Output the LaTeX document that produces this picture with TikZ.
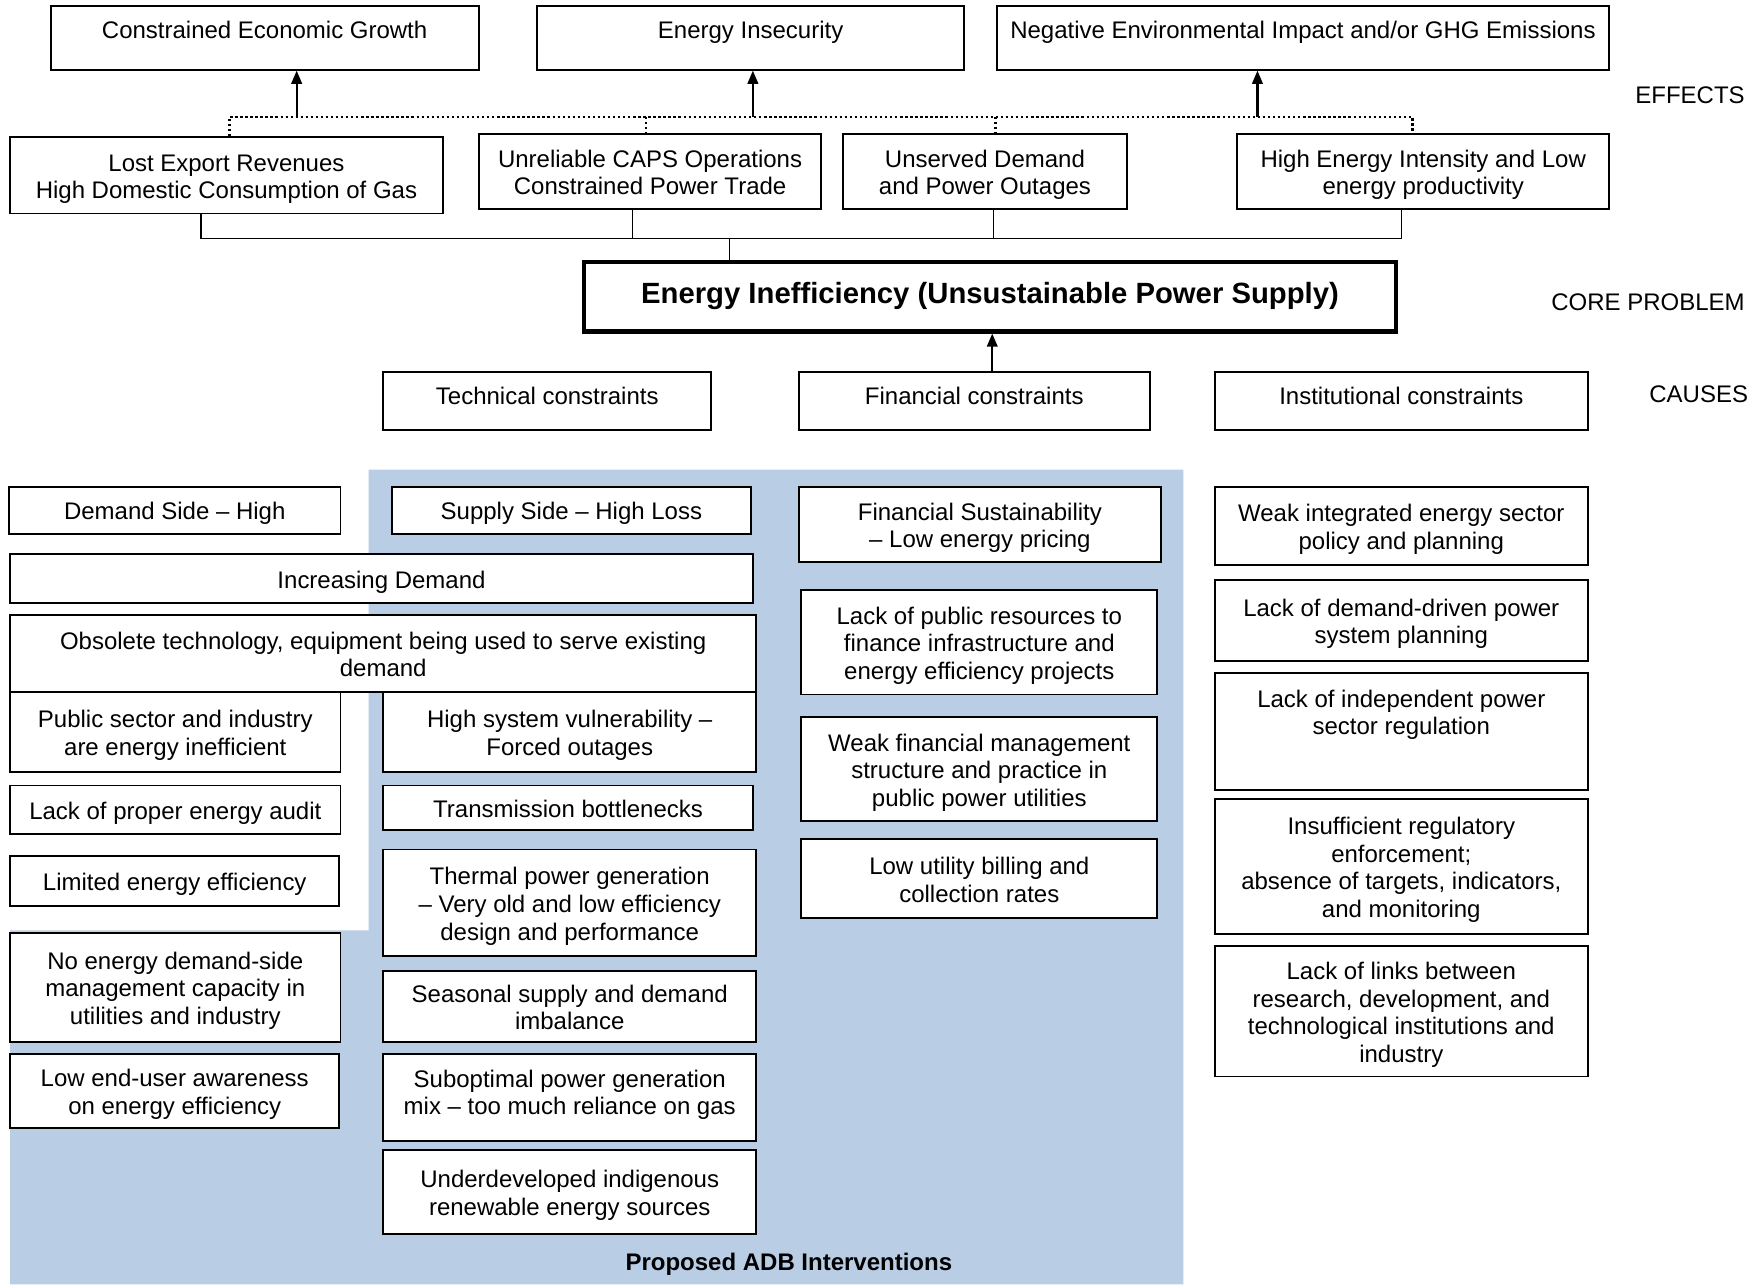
\documentclass[tikz,border=0pt]{standalone}
\usepackage{fontspec}
\setmainfont{Liberation Sans}
\usetikzlibrary{fit, arrows.meta}

\definecolor{adbblue}{RGB}{185,205,229}
\newcommand{\cell}[1]{\begin{tabular}{@{}c@{}}#1\end{tabular}}

\begin{document}
\begin{tikzpicture}[
			x=0.01646cm, y=-0.01646cm,
			font=\fontsize{10}{11.5}\selectfont,
			% Style for the boxes (placed by their corners, text as centred label)
			box/.style={draw, line width=0.8pt, fill=white, inner sep=0pt},
			cellbox/.style={box, label={[inner sep=0pt, yshift=-1.7pt]center:{\cell{#1}}}},
			% Single line boxes whose text sits a little high
			highbox/.style={box, label={[inner sep=0pt, yshift=0.8pt]center:{\cell{#1}}}},
			topbox/.style={box, label={[inner sep=0pt, yshift=1.8pt]center:{\cell{#1}}}},
			corebox/.style={box, line width=1.7pt, label={[inner sep=0pt, font=\fontsize{12.2}{14}\selectfont\bfseries]center:{\cell{#1}}}},
			% Connectors
			link/.style={line width=0.6pt},
			dots/.style={line width=1.1pt, dash pattern=on 1pt off 1.1pt},
			arr/.style={line width=0.9pt, -{Triangle[length=5.5pt, width=4.4pt]}},
			% Level labels on the right
			level/.style={anchor=east, inner sep=0pt}
			]
			\useasboundingbox (0,0) rectangle (1568,1143);
			
			% ==============================================================================
			% PROPOSED ADB INTERVENTIONS (shaded area)
			% ==============================================================================
			\fill[adbblue] (328,418) -- (1053,418) -- (1053,1143) -- (9,1143) -- (9,828) -- (328,828) -- cycle;
			\node[inner sep=0pt, font=\fontsize{10}{11.5}\selectfont\bfseries] (adb) at (702,1125) {Proposed ADB Interventions};
			
			% ==============================================================================
			% EFFECTS
			% ==============================================================================
			\node[topbox={Constrained Economic Growth}, fit={(45,5) (426,62)}] (eGrowth) {};
			\node[topbox={Energy Insecurity}, fit={(478,5) (858,62)}] (eInsecurity) {};
			\node[topbox={Negative Environmental Impact and/or GHG Emissions}, fit={(887,5) (1432,62)}] (eEnv) {};
			
			\node[cellbox={Lost Export Revenues\\High Domestic Consumption of Gas}, fit={(9,122) (394,190)}] (lostExport) {};
			\node[cellbox={Unreliable CAPS Operations\\Constrained Power Trade}, fit={(426,119) (731,186)}] (caps) {};
			\node[cellbox={Unserved Demand\\and Power Outages}, fit={(750,119) (1003,186)}] (unserved) {};
			\node[cellbox={High Energy Intensity and Low\\energy productivity}, fit={(1101,119) (1432,186)}] (intensity) {};
			
			% dotted bus and arrows up to the effects
			\coordinate (dotL) at (204,104);
			\coordinate (dotR) at (1257,104);
			\draw[dots] (lostExport.north -| dotL) -- (dotL) -- (dotR) -- (intensity.north -| dotR);
			\draw[dots] (575,104) -- (caps.north -| 575,0);
			\draw[dots] (886,104) -- (unserved.north -| 886,0);
			\draw[arr] (264,104) -- (eGrowth.south -| 264,0);
			\draw[arr] (670,104) -- (eInsecurity.south -| 670,0);
			\draw[arr] (1119,104) -- (eEnv.south -| 1119,0);
			
			% ==============================================================================
			% CORE PROBLEM
			% ==============================================================================
			\node[corebox={Energy Inefficiency (Unsustainable Power Supply)}, fit={(520,233) (1242,295)}] (core) {};
			
			\coordinate (busL) at (179,212);
			\coordinate (busR) at (1247,212);
			\draw[link] (lostExport.south -| busL) -- (busL) -- (busR) -- (intensity.south -| busR);
			\draw[link] (caps.south -| 563,0) -- (563,212);
			\draw[link] (unserved.south -| 884,0) -- (884,212);
			\draw[link] (649,212) -- (core.north -| 649,0);
			
			% ==============================================================================
			% CAUSES
			% ==============================================================================
			\node[highbox={Technical constraints}, fit={(341,331) (633,383)}] (techC) {};
			\node[highbox={Financial constraints}, fit={(711,331) (1023,383)}] (finC) {};
			\node[highbox={Institutional constraints}, fit={(1081,331) (1413,383)}] (instC) {};
			\draw[arr] (finC.north -| 883,0) -- (core.south -| 883,0);
			
			\node[level] (lEffects) at (1553,85) {EFFECTS};
			\node[level] (lCore) at (1553,269) {CORE PROBLEM};
			\node[level] (lCauses) at (1556,351) {CAUSES};
			
			% Technical: demand side and supply side
			\node[cellbox={Demand Side -- High}, fit={(8,433) (303,475)}] (demSide) {};
			\node[cellbox={Supply Side -- High Loss}, fit={(349,433) (668,475)}] (supSide) {};
			\node[cellbox={Increasing Demand}, fit={(9,493) (670,537)}] (incDemand) {};
			\node[cellbox={Obsolete technology, equipment being used to serve existing\\demand}, fit={(9,547) (673,616)}] (obsolete) {};
			\node[cellbox={Public sector and industry\\are energy inefficient}, fit={(9,616) (303,687)}] (publicSec) {};
			\node[cellbox={High system vulnerability --\\Forced outages}, fit={(341,616) (673,687)}] (vulner) {};
			\node[cellbox={Lack of proper energy audit}, fit={(9,699) (303,742)}] (audit) {};
			\node[cellbox={Transmission bottlenecks}, fit={(341,699) (670,739)}] (transm) {};
			\node[cellbox={Limited energy efficiency}, fit={(9,762) (302,806)}] (limited) {};
			\node[cellbox={Thermal power generation\\-- Very old and low efficiency\\design and performance}, fit={(341,756) (673,851)}] (thermal) {};
			\node[cellbox={No energy demand-side\\management capacity in\\utilities and industry}, fit={(9,830) (303,927)}] (dsm) {};
			\node[cellbox={Seasonal supply and demand\\imbalance}, fit={(341,864) (673,927)}] (seasonal) {};
			\node[cellbox={Low end-user awareness\\on energy efficiency}, fit={(9,938) (302,1004)}] (awareness) {};
			\node[highbox={Suboptimal power generation\\mix -- too much reliance on gas}, fit={(341,938) (673,1015)}] (subopt) {};
			\node[cellbox={Underdeveloped indigenous\\renewable energy sources}, fit={(341,1023) (673,1098)}] (renew) {};
			
			% Financial
			\node[cellbox={Financial Sustainability\\-- Low energy pricing}, fit={(711,433) (1033,500)}] (finSust) {};
			\node[cellbox={Lack of public resources to\\finance infrastructure and\\energy efficiency projects}, fit={(713,525) (1030,618)}] (pubRes) {};
			\node[cellbox={Weak financial management\\structure and practice in\\public power utilities}, fit={(713,638) (1030,731)}] (weakFin) {};
			\node[cellbox={Low utility billing and\\collection rates}, fit={(713,747) (1030,817)}] (billing) {};
			
			% Institutional
			\node[cellbox={Weak integrated energy sector\\policy and planning}, fit={(1081,433) (1413,503)}] (policy) {};
			\node[cellbox={Lack of demand-driven power\\system planning}, fit={(1081,516) (1413,588)}] (dmdPlan) {};
			\node[box, fit={(1081,599) (1413,703)}, label={[inner sep=0pt, anchor=north, yshift=-6.3pt]north:{\cell{Lack of independent power\\sector regulation}}}] (regul) {};
			\node[cellbox={Insufficient regulatory\\enforcement;\\absence of targets, indicators,\\and monitoring}, fit={(1081,711) (1413,831)}] (enforce) {};
			\node[cellbox={Lack of links between\\research, development, and\\technological institutions and\\industry}, fit={(1081,842) (1413,958)}] (links) {};
			
		\end{tikzpicture}
\end{document}
